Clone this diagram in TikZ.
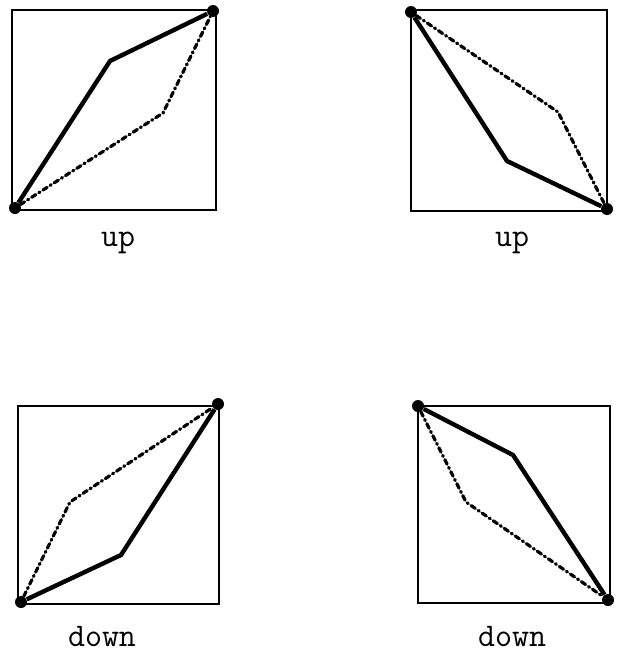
\documentclass[tikz,border=0pt]{standalone}
\begin{document}
\begin{tikzpicture}[x=0.5pt, y=-0.5pt,
  dot/.style={circle, fill=black, inner sep=0pt, minimum size=6pt},
  frame/.style={line width=0.7pt},
  path/.style={line width=2.2pt, line join=round},
  alt/.style={line width=1.6pt, line cap=round, dash pattern=on 2.5pt off 1.8pt on 0.6pt off 1.8pt},
  lbl/.style={font=\ttfamily\fontsize{16.5}{18}\selectfont, inner sep=0pt}]
\useasboundingbox (0,0) rectangle (630,664);
% --- Top left (up) ---
\draw[frame] (12,10) rectangle (216,210);
\node[dot] (a1) at (15,208) {};
\node[dot] (a2) at (213,11) {};
\coordinate (a3) at (110,61);
\coordinate (a4) at (163,113);
\draw[path] (a1)--(a3)--(a2);
\draw[alt] (a1)--(a4)--(a2);
\node[lbl] (l1) at (118,243) {up};
% --- Top right (up) ---
\draw[frame] (411,10) rectangle (607,211);
\node[dot] (b1) at (411,12) {};
\node[dot] (b2) at (607,209) {};
\coordinate (b3) at (507,161);
\coordinate (b4) at (558,112);
\draw[path] (b1)--(b3)--(b2);
\draw[alt] (b1)--(b4)--(b2);
\node[lbl] (l2) at (512,243) {up};
% --- Bottom left (down) ---
\draw[frame] (18,406) rectangle (219,604);
\node[dot] (c1) at (21,602) {};
\node[dot] (c2) at (218,404) {};
\coordinate (c3) at (121,555);
\coordinate (c4) at (70,502);
\draw[path] (c1)--(c3)--(c2);
\draw[alt] (c1)--(c4)--(c2);
\node[lbl] (l3) at (102,637) {down};
% --- Bottom right (down) ---
\draw[frame] (418,406) rectangle (610,603);
\node[dot] (d1) at (418,406) {};
\node[dot] (d2) at (608,600) {};
\coordinate (d3) at (513,455);
\coordinate (d4) at (466,502);
\draw[path] (d1)--(d3)--(d2);
\draw[alt] (d1)--(d4)--(d2);
\node[lbl] (l4) at (512,637) {down};
%
\end{tikzpicture}
\end{document}
